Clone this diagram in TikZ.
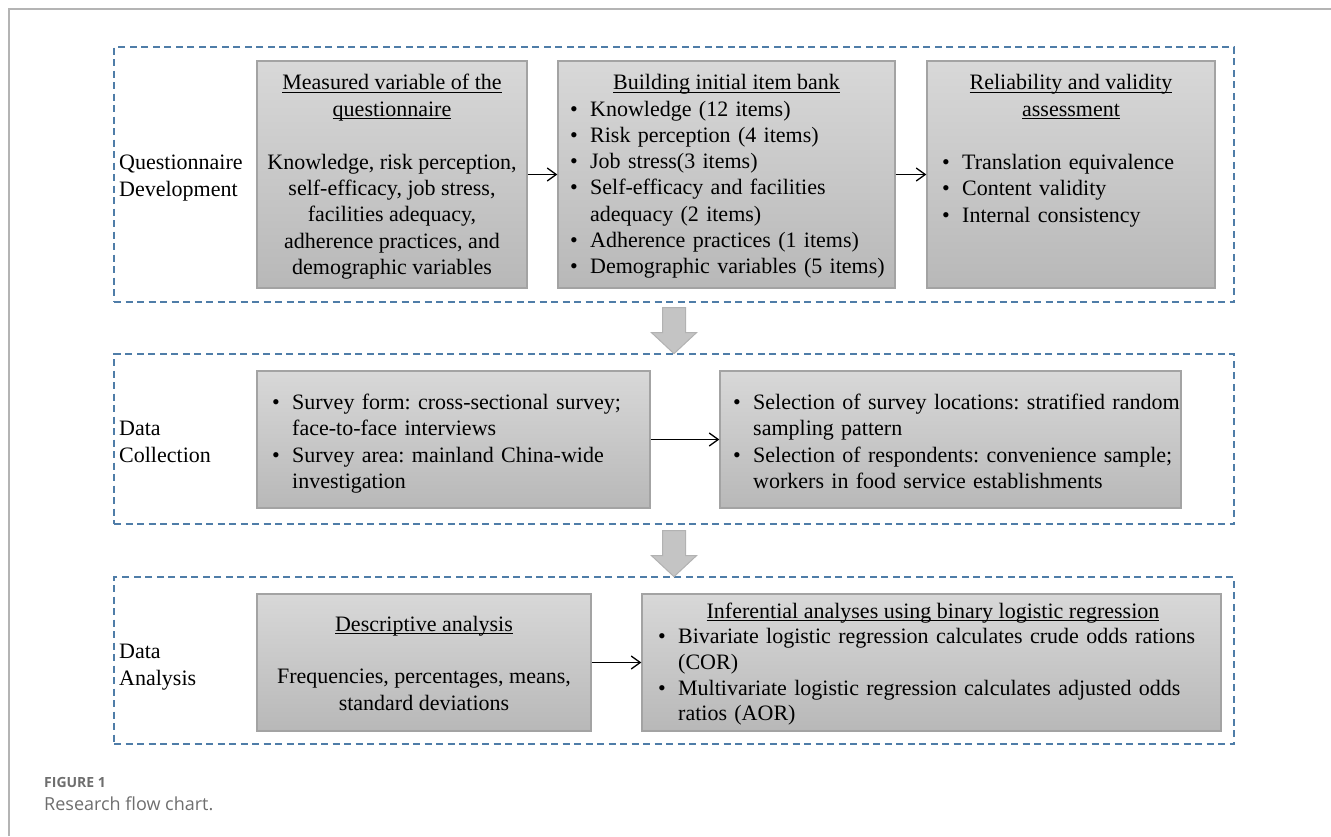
\documentclass[tikz,border=0pt]{standalone}
\usepackage{fontspec}
\setmainfont{Liberation Serif}
\newfontfamily\capfont{Open Sans}
\usetikzlibrary{arrows.meta,calc}
\definecolor{dashblue}{HTML}{4F7DA8}
\definecolor{boxtop}{HTML}{D8D8D8}
\definecolor{boxbot}{HTML}{B8B8B8}
\definecolor{boxedge}{HTML}{A3A3A3}
\definecolor{blkfill}{HTML}{C4C4C4}
\definecolor{blkedge}{HTML}{B2B2B2}
\definecolor{framegray}{HTML}{B4B4B4}
\definecolor{capgray}{HTML}{6E6E6E}
\newcommand{\bitem}[1]{\hangindent=20pt\hangafter=1\noindent\makebox[20pt][l]{\textbullet}#1\par}
\newcommand{\ulin}[1]{\setbox0=\hbox{#1}\rlap{\rule[-3pt]{\wd0}{1pt}}\box0}
\begin{document}
\begin{tikzpicture}[x=1pt,y=-1pt,
  txt/.style={inner sep=0pt, font=\fontsize{22}{26.3}\selectfont\frenchspacing, text=black},
  gbox/.style={draw=boxedge, line width=1.4pt, top color=boxtop, bottom color=boxbot, inner sep=0pt},
  grp/.style={draw=dashblue, line width=1.3pt, dash pattern=on 7pt off 4.5pt, inner sep=0pt},
  conn/.style={line width=1.3pt, -{Straight Barb[length=9pt,width=13pt]}},
  blockarr/.style={fill=blkfill, draw=blkedge, line width=1pt},
]
\useasboundingbox (0,0) rectangle (1331,836);
\draw[framegray, line width=1.5pt] (9,836) -- (9,9) -- (1331,9);

% groups
\node[grp, minimum width=1120pt, minimum height=255pt] (g1) at (674,174.5) {};
\node[grp, minimum width=1120pt, minimum height=170pt] (g2) at (674,439) {};
\node[grp, minimum width=1120pt, minimum height=167pt] (g3) at (674,660.5) {};

% boxes
\node[gbox, minimum width=270pt, minimum height=227pt] (b1) at (392,174.5) {};
\node[gbox, minimum width=337pt, minimum height=227pt] (b2) at (726.5,174.5) {};
\node[gbox, minimum width=288pt, minimum height=227pt] (b3) at (1071,174.5) {};
\node[gbox, minimum width=393pt, minimum height=137pt] (c1) at (453.5,439.5) {};
\node[gbox, minimum width=461pt, minimum height=137pt] (c2) at (950.5,439.5) {};
\node[gbox, minimum width=334pt, minimum height=137pt] (a1) at (424,662.5) {};
\node[gbox, minimum width=579pt, minimum height=137pt] (a2) at (931.5,662.5) {};

% connectors
\draw[conn] (b1) -- (b2);
\draw[conn] (b2) -- (b3);
\draw[conn] (c1) -- (c2);
\draw[conn] (a1) -- (a2);

% block arrows
\draw[blockarr, shift={(g1.south)}] (-11.5,5) -- (11.5,5) -- (11.5,30) -- (22.5,30) -- (0,51) -- (-22.5,30) -- (-11.5,30) -- cycle;
\draw[blockarr, shift={(g2.south)}] (-11.5,6) -- (11.5,6) -- (11.5,31) -- (22.5,31) -- (0,52) -- (-22.5,31) -- (-11.5,31) -- cycle;

% side labels (base = last line)
\node[txt, anchor=base west, align=left] (lq) at (119,196) {Questionnaire\\Development};
\node[txt, anchor=base west, align=left] (lc) at (119,462) {Data\\Collection};
\node[txt, anchor=base west, align=left] (la) at (119,685) {Data\\Analysis};

% box 1
\node[txt, anchor=base, align=center] (t1) at (392,116) {\ulin{Measured variable of the}\\\ulin{questionnaire}};
\node[txt, anchor=base, align=center] (t1b) at (392,274.5) {Knowledge, risk perception,\\self-efficacy, job stress,\\facilities adequacy,\\adherence practices, and\\demographic variables};

% box 2
\node[txt, anchor=base] (t2) at (726.5,89.5) {\ulin{Building initial item bank}};
\node[txt, anchor=base west, text width=330pt] (t2b) at (570,116) {\raggedright%
\bitem{Knowledge (12 items)}\bitem{Risk perception (4 items)}\bitem{Job stress(3 items)}\bitem{Self-efficacy and facilities\newline adequacy (2 items)}\bitem{Adherence practices (1 items)}\bitem{Demographic variables (5 items)}};

% box 3
\node[txt, anchor=base, align=center] (t3) at (1071,116) {\ulin{Reliability and validity}\\\ulin{assessment}};
\node[txt, anchor=base west, text width=270pt] (t3b) at (942,169.5) {\raggedright%
\bitem{Translation equivalence}\bitem{Content validity}\bitem{Internal consistency}};

% data collection
\node[txt, anchor=base west, text width=420pt] (tc1) at (272,409.5) {\raggedright%
\bitem{Survey form: cross-sectional survey;\newline face-to-face interviews}\bitem{Survey area: mainland China-wide\newline investigation}};
\node[txt, anchor=base west, text width=500pt] (tc2) at (733,409.5) {\raggedright%
\bitem{Selection of survey locations: stratified random\newline sampling pattern}\bitem{Selection of respondents: convenience sample;\newline workers in food service establishments}};

% data analysis
\node[txt, anchor=base] (ta1) at (424,631) {\ulin{Descriptive analysis}};
\node[txt, anchor=base, align=center] (ta1b) at (424,710) {Frequencies, percentages, means,\\standard deviations};
\node[txt, anchor=base] (ta2) at (933,618) {\ulin{Inferential analyses using binary logistic regression}};
\node[txt, anchor=base west, text width=600pt, font=\fontsize{22}{25.8}\selectfont\frenchspacing] (ta2b) at (658,643.5) {\raggedright%
\bitem{Bivariate logistic regression calculates crude odds rations\newline (COR)}\bitem{Multivariate logistic regression calculates adjusted odds\newline ratios (AOR)}};

% caption
\node[anchor=base west, inner sep=0pt, font=\capfont\bfseries\fontsize{14}{16}\selectfont, text=capgray] (fig) at (44,787) {FIGURE 1};
\node[anchor=base west, inner sep=0pt, font=\capfont\fontsize{18}{21}\selectfont, text=capgray] (cap) at (44,810.5) {Research flow chart.};
\end{tikzpicture}
\end{document}
